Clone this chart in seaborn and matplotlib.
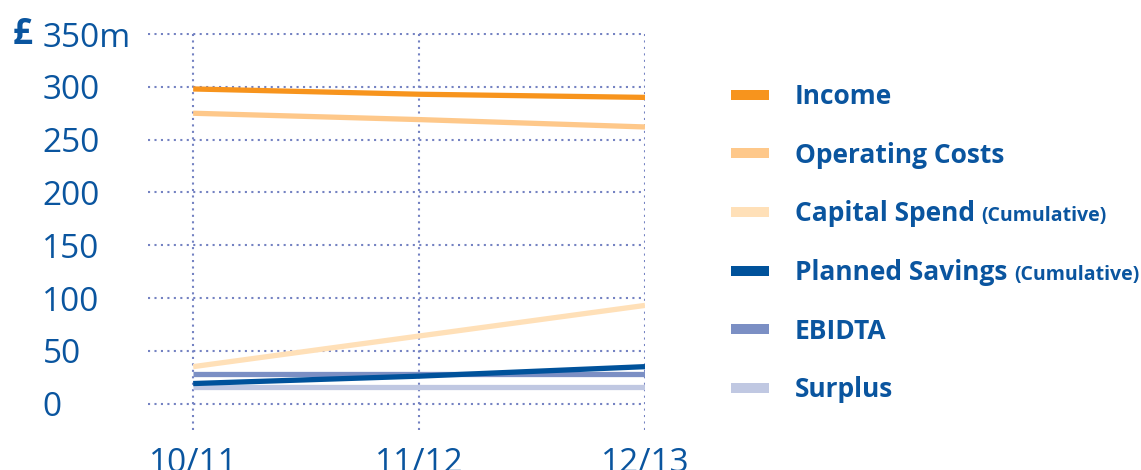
import pandas as pd
import matplotlib.pyplot as plt
import seaborn as sns

# Dados
years = ["10/11", "11/12", "12/13"]
income = [298, 293, 290]
operating_costs = [275, 269, 262]
capital_spend = [35, 64, 93]
planned_savings = [19, 26, 35]
ebidta = [28, 28, 28]
surplus = [16, 16, 16]

series_names = ["Income", "Operating Costs", "Capital Spend",
                "Planned Savings", "EBIDTA", "Surplus"]
series_values = [income, operating_costs, capital_spend,
                 planned_savings, ebidta, surplus]
colors = ["#F7941D", "#FEC88A", "#FFE0B8", "#00529B", "#7B8FC4", "#C0C8E2"]
suffix = {"Capital Spend": "(Cumulative)", "Planned Savings": "(Cumulative)"}

df = pd.DataFrame({
    "year": years * len(series_names),
    "series": [s for s in series_names for _ in years],
    "value": [v for vals in series_values for v in vals],
})

sns.set_style("white")
plt.rcParams["font.family"] = ["Open Sans", "DejaVu Sans"]
blue = "#0A559F"

fig = plt.figure(figsize=(11.41, 4.70), dpi=100)
ax = fig.add_axes([0.1297, 0.0851, 0.4356, 0.8447])

sns.lineplot(data=df, x="year", y="value", hue="series",
             hue_order=series_names, palette=dict(zip(series_names, colors)),
             linewidth=3.8, ax=ax, legend=True, sort=False)

# ordem de desenho
z = {"Income": 6, "Operating Costs": 5, "Capital Spend": 4,
     "Planned Savings": 4.5, "EBIDTA": 4.2, "Surplus": 3.5}
for line, name in zip(ax.lines, series_names):
    line.set_zorder(z[name])
    line.set_solid_capstyle("butt")

ax.set_xlim(-0.2, 2.0)
ax.set_ylim(-25, 351)
ax.set_yticks(range(0, 351, 50))
ax.set_yticklabels([str(v) for v in range(0, 301, 50)] + ["350m"])
ax.set_xlabel("")
ax.set_ylabel("")

for s in ax.spines.values():
    s.set_visible(False)

ax.grid(True, color="#7482C2", linestyle=(0, (1, 2.1)), linewidth=1.5)
ax.set_axisbelow(True)

ax.tick_params(axis="both", length=0, labelsize=24, labelcolor=blue)
ax.tick_params(axis="y", pad=76)
ax.tick_params(axis="x", pad=12)
for t in ax.get_yticklabels():
    t.set_horizontalalignment("left")

fig.text(13 / 1141, 1 - 35 / 470, "£", fontsize=25, fontweight="bold",
         color=blue, va="center", ha="left")

# Legenda
handles, labels = ax.get_legend_handles_labels()
ax.get_legend().remove()
leg = fig.legend(handles, labels, loc="upper left",
                 bbox_to_anchor=(0.62, 0.874), frameon=False,
                 handlelength=1.45, handletextpad=0.95, labelspacing=1.2,
                 prop={"size": 19, "weight": "bold"})
for h in leg.legend_handles:
    h.set_linewidth(7.2)
    h.set_solid_capstyle("butt")
for t in leg.get_texts():
    t.set_color(blue)

fig.canvas.draw()
for t in leg.get_texts():
    if t.get_text() in suffix:
        ax.annotate(suffix[t.get_text()], xy=(1, 0), xycoords=t,
                    xytext=(5, 4.5), textcoords="offset points",
                    va="baseline", ha="left", fontsize=14,
                    fontweight="bold", color=blue, annotation_clip=False)

plt.savefig("out.png", dpi=100)
plt.close()
